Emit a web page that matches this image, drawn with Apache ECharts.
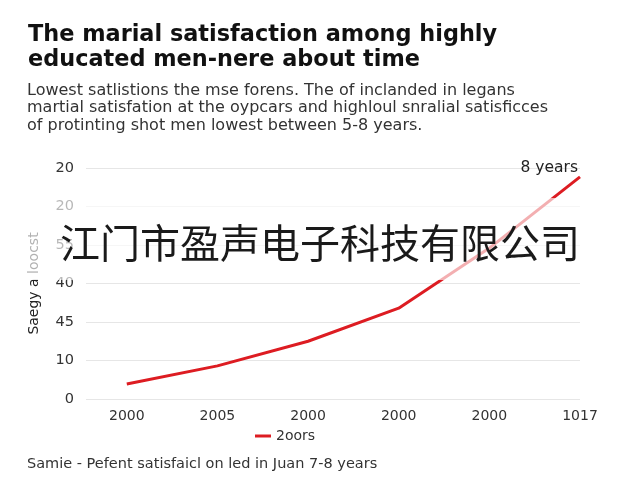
<!DOCTYPE html>
<html>
<head>
<meta charset="utf-8">
<script src="https://cdn.jsdelivr.net/npm/echarts@6/dist/echarts.min.js"></script>
<style>html,body{margin:0;padding:0;background:#fff}#c{width:640px;height:480px}</style>
</head>
<body>
<div id="c"></div>
<script>
var xLabels = ["2000", "2005", "2000", "2000", "2000", "1017"];
var yLabels = ["0", "10", "45", "40", "55", "20", "20"];
var seriesName = "2oors";
var values = [0.39, 0.86, 1.5, 2.36, 3.92, 5.77];
var endLabelText = "8 years";

var F = 'DejaVu Sans';
var chart = echarts.init(document.getElementById('c'));
var data = values.map(function (v, i) { return [i, v]; });
chart.setOption({
  animation: false,
  backgroundColor: '#fff',
  title: [
    { text: 'The marial satisfaction among highly\neducated men-nere about time', left: 23, top: 18,
      textStyle: { fontSize: 22.4, fontWeight: 'bold', color: '#111', fontFamily: F, lineHeight: 25 } },
    { text: 'Lowest satlistions the mse forens. The of inclanded in legans\nmartial satisfation at the oypcars and highloul snralial satisficces\nof protinting shot men lowest between 5-8 years.', left: 22, top: 77,
      textStyle: { fontSize: 16, fontWeight: 'normal', color: '#333', fontFamily: F, lineHeight: 17.5 } },
    { text: 'Samie - Pefent satisfaicl on led in Juan 7-8 years', left: 22, top: 452,
      textStyle: { fontSize: 14.5, fontWeight: 'normal', color: '#333', fontFamily: F } }
  ],
  legend: {
    data: [seriesName], left: 250, top: 424, itemWidth: 16, itemHeight: 3, itemGap: 6,
    icon: 'rect',
    textStyle: { fontSize: 14, color: '#333', fontFamily: F }
  },
  grid: { left: 86, right: 60, top: 168, bottom: 81, containLabel: false, outerBoundsMode: 'none' },
  xAxis: {
    type: 'value', min: -0.45, max: 5,
    axisLine: { show: false }, axisTick: { show: false }, splitLine: { show: false },
    axisLabel: { customValues: [0, 1, 2, 3, 4, 5], formatter: function (v) { return xLabels[Math.round(v)]; },
      margin: 10, fontSize: 14, color: '#333', fontFamily: F }
  },
  yAxis: {
    type: 'value', min: 0, max: 6, interval: 1,
    name: 'Saegy a loocst', nameLocation: 'middle', nameGap: 45,
    nameTextStyle: { fontSize: 14, color: '#222', fontFamily: F },
    axisLine: { show: false }, axisTick: { show: false },
    splitLine: { lineStyle: { color: '#e6e6e6', width: 1 } },
    axisLabel: { formatter: function (v) { return yLabels[v]; }, margin: 12, fontSize: 14.5, color: '#333', fontFamily: F }
  },
  series: [{
    name: seriesName, type: 'line', data: data, showSymbol: false, symbol: 'none',
    lineStyle: { color: '#dd1c22', width: 3 }, itemStyle: { color: '#dd1c22' },
    endLabel: { show: true, formatter: endLabelText, align: 'right', verticalAlign: 'bottom', offset: [-10, -1],
      fontSize: 15.5, color: '#222', fontFamily: F }
  }],
  graphic: [
    { type: 'rect', shape: { x: 0, y: 198, width: 640, height: 82 }, style: { fill: 'rgba(255,255,255,0.65)' }, z: 100, silent: true },
    { type: 'text', x: 320, y: 243, z: 101, silent: true,
      style: { text: '江门市盈声电子科技有限公司', fill: '#1a1a1a', font: '40px "Noto Sans CJK SC"', align: 'center', verticalAlign: 'middle' } }
  ]
});
</script>
</body>
</html>
